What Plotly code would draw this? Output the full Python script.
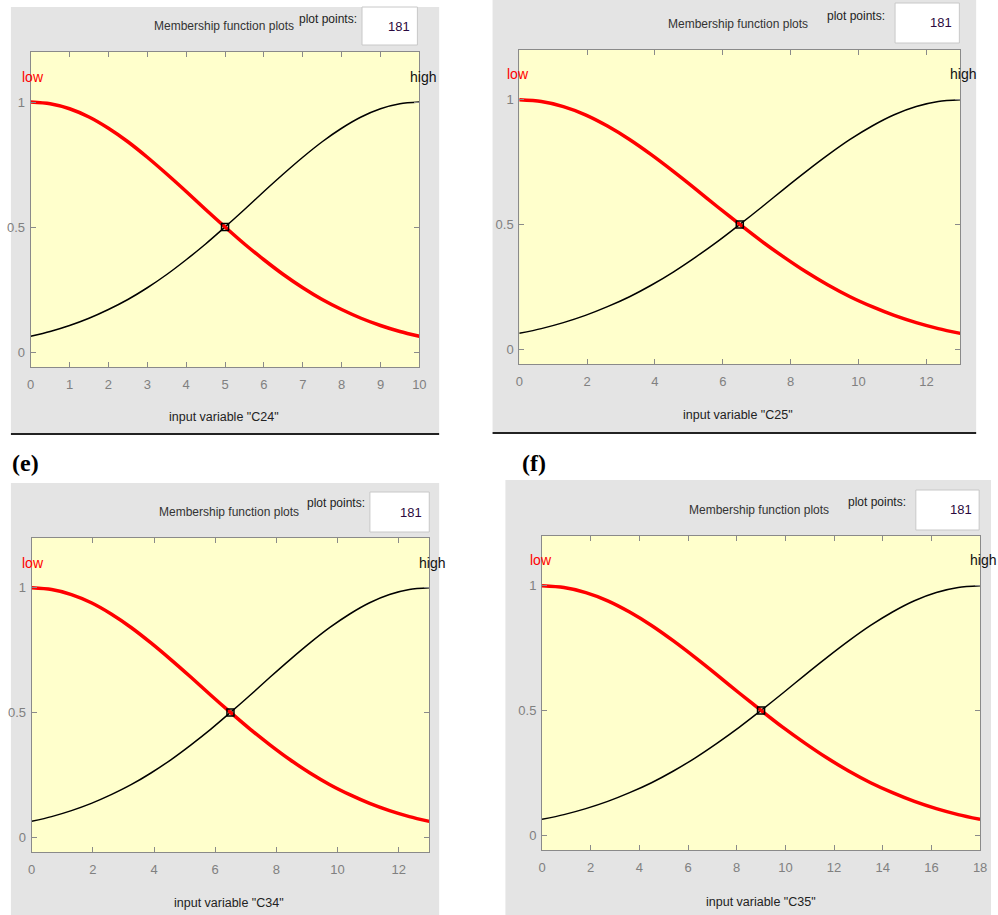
import plotly.graph_objects as go

W, H = 998, 915

# ---- data ----
panel_vars = ['C24', 'C25', 'C34', 'C35']
panel_xmax = [10, 13, 13, 18]
c24_x = [0, 0.5, 1, 1.5, 2, 2.5, 3, 3.5, 4, 4.5, 5, 5.5, 6, 6.5, 7, 7.5, 8, 8.5, 9, 9.5, 10]
c25_x = [0, 0.65, 1.3, 1.95, 2.6, 3.25, 3.9, 4.55, 5.2, 5.85, 6.5, 7.15, 7.8, 8.45, 9.1, 9.75,
         10.4, 11.05, 11.7, 12.35, 13]
c34_x = [0, 0.65, 1.3, 1.95, 2.6, 3.25, 3.9, 4.55, 5.2, 5.85, 6.5, 7.15, 7.8, 8.45, 9.1, 9.75,
         10.4, 11.05, 11.7, 12.35, 13]
c35_x = [0, 0.9, 1.8, 2.7, 3.6, 4.5, 5.4, 6.3, 7.2, 8.1, 9, 9.9, 10.8, 11.7, 12.6, 13.5,
         14.4, 15.3, 16.2, 17.1, 18]
low_values = [1.000, 0.993, 0.973, 0.940, 0.895, 0.841, 0.779, 0.712, 0.642, 0.570, 0.500,
              0.432, 0.369, 0.310, 0.257, 0.210, 0.170, 0.135, 0.106, 0.082, 0.063]
high_values = [0.063, 0.082, 0.106, 0.135, 0.170, 0.210, 0.257, 0.310, 0.369, 0.432, 0.500,
               0.570, 0.642, 0.712, 0.779, 0.841, 0.895, 0.940, 0.973, 0.993, 1.000]
cross_x = [5, 6.5, 6.5, 9]
cross_y = [0.5, 0.5, 0.5, 0.5]
c24_ticks = [0, 1, 2, 3, 4, 5, 6, 7, 8, 9, 10]
c25_ticks = [0, 2, 4, 6, 8, 10, 12]
c34_ticks = [0, 2, 4, 6, 8, 10, 12]
c35_ticks = [0, 2, 4, 6, 8, 10, 12, 14, 16, 18]
y_ticks = [0, 0.5, 1]
y_tick_labels = ['0', '0.5', '1']
plot_points = '181'
panel_tags = ['(e)', '(f)']

xs = [c24_x, c25_x, c34_x, c35_x]
ticks = [c24_ticks, c25_ticks, c34_ticks, c35_ticks]

# ---- layout geometry (pixels) ----
areas = [(27, 420, 52, 367), (521, 967, 50, 364), (28, 430, 538, 852), (544, 987, 536, 850)]
panels = [(7, 440, 7, 433), (494, 983, 0, 432), (7, 440, 483, 915), (507, 998, 480, 915)]
headers = [
    (222, 26, 328, 19, (362, 418, 7, 45)),
    (742, 24, 862, 16, (901, 966, 3, 43)),
    (228, 512, 336, 503, (370, 430, 492, 532)),
    (763, 510, 883, 502, (922, 986, 490, 530)),
]
low_pos = [(16, 77), (507, 74), (16, 563), (530, 560)]
high_pos = [(409, 77), (955, 74), (418, 563), (975, 560)]
xlabel_pos = [(222, 417), (742, 415), (228, 903), (765, 902)]

FONT = 'Liberation Sans, Arial, sans-serif'
GRAY_BG = '#E4E4E4'
YELLOW = '#FFFFCC'
AXC = '#8A8A8A'


def px(x):
    return x / W


def py(y):
    return 1 - y / H


fig = go.Figure()
shapes = []
annotations = []

for i in range(4):
    sfx = '' if i == 0 else str(i + 1)
    xa, ya = 'x' + sfx, 'y' + sfx
    l, r, t, b = areas[i]
    xmax = panel_xmax[i]

    fig.add_trace(go.Scatter(x=xs[i], y=high_values, mode='lines', xaxis=xa, yaxis=ya,
                             line=dict(color='black', width=1.5, shape='spline', smoothing=0.8),
                             showlegend=False, hoverinfo='skip'))
    fig.add_trace(go.Scatter(x=xs[i], y=low_values, mode='lines', xaxis=xa, yaxis=ya,
                             line=dict(color='#FF0000', width=3.5, shape='spline', smoothing=0.8),
                             showlegend=False, hoverinfo='skip'))
    fig.add_trace(go.Scatter(x=[cross_x[i]], y=[cross_y[i]], mode='markers', xaxis=xa, yaxis=ya,
                             marker=dict(symbol='square-open', size=7, color='black',
                                         line=dict(width=1.5, color='black')),
                             showlegend=False, hoverinfo='skip'))

    axis_common = dict(showline=True, mirror='ticks', linecolor=AXC, linewidth=1,
                       ticks='inside', ticklen=5, tickcolor=AXC, showgrid=False,
                       zeroline=False, tickfont=dict(family=FONT, size=13, color='#808080'),
                       fixedrange=True)
    fig.update_layout(**{
        ('xaxis' + sfx): dict(domain=[px(l), px(r)], range=[0, xmax], anchor=ya,
                              tickvals=ticks[i], ticktext=[str(v) for v in ticks[i]],
                              ticklabelstandoff=5, **axis_common),
        ('yaxis' + sfx): dict(domain=[py(b), py(t)], range=[-0.06, 1.2], anchor=xa,
                              tickvals=y_ticks, ticktext=y_tick_labels,
                              ticklabelstandoff=2, **axis_common),
    })

    pl, pr, pt, pb = panels[i]
    shapes.append(dict(type='rect', xref='paper', yref='paper', x0=px(pl), x1=px(pr),
                       y0=py(pb), y1=py(pt), fillcolor=GRAY_BG, line=dict(width=0),
                       layer='below'))
    shapes.append(dict(type='rect', xref=xa + ' domain', yref=ya + ' domain', x0=0, x1=1,
                       y0=0, y1=1, fillcolor=YELLOW, line=dict(width=0), layer='below'))

    tcx, tcy, ppx, ppy, (bl, br, bt, bb) = headers[i]
    shapes.append(dict(type='rect', xref='paper', yref='paper', x0=px(bl), x1=px(br),
                       y0=py(bb), y1=py(bt), fillcolor='white',
                       line=dict(width=1, color='#C8C8C8'), layer='below'))
    annotations.append(dict(x=px(tcx), y=py(tcy), xref='paper', yref='paper',
                            text='Membership function plots', showarrow=False,
                            xanchor='center', yanchor='middle',
                            font=dict(family=FONT, size=12, color='#333333')))
    annotations.append(dict(x=px(ppx), y=py(ppy), xref='paper', yref='paper',
                            text='plot points:', showarrow=False,
                            xanchor='center', yanchor='middle',
                            font=dict(family=FONT, size=12, color='#222222')))
    annotations.append(dict(x=px(br - 5), y=py((bt + bb) / 2), xref='paper', yref='paper',
                            text=plot_points, showarrow=False,
                            xanchor='right', yanchor='middle',
                            font=dict(family=FONT, size=13, color='#2A0A40')))
    annotations.append(dict(x=px(low_pos[i][0]), y=py(low_pos[i][1]), xref='paper',
                            yref='paper', text='low', showarrow=False,
                            xanchor='left', yanchor='middle',
                            font=dict(family=FONT, size=14, color='#FF0000')))
    annotations.append(dict(x=px(high_pos[i][0]), y=py(high_pos[i][1]), xref='paper',
                            yref='paper', text='high', showarrow=False,
                            xanchor='left', yanchor='middle',
                            font=dict(family=FONT, size=14, color='#111111')))
    annotations.append(dict(x=px(xlabel_pos[i][0]), y=py(xlabel_pos[i][1]), xref='paper',
                            yref='paper', text='input variable "%s"' % panel_vars[i],
                            showarrow=False, xanchor='center', yanchor='middle',
                            font=dict(family=FONT, size=12.5, color='#222222')))

shapes.append(dict(type='line', xref='paper', yref='paper', x0=px(7), x1=px(440),
                   y0=py(434), y1=py(434), line=dict(color='#222222', width=2)))
shapes.append(dict(type='line', xref='paper', yref='paper', x0=px(494), x1=px(983),
                   y0=py(433), y1=py(433), line=dict(color='#222222', width=2)))

annotations.append(dict(x=px(6), y=py(463), xref='paper', yref='paper', text='<b>%s</b>' % panel_tags[0],
                        showarrow=False, xanchor='left', yanchor='middle',
                        font=dict(family='Liberation Serif, Times New Roman, serif', size=24,
                                  color='black')))
annotations.append(dict(x=px(522), y=py(463), xref='paper', yref='paper', text='<b>%s</b>' % panel_tags[1],
                        showarrow=False, xanchor='left', yanchor='middle',
                        font=dict(family='Liberation Serif, Times New Roman, serif', size=24,
                                  color='black')))

fig.update_layout(width=W, height=H, margin=dict(l=0, r=0, t=0, b=0),
                  paper_bgcolor='white', plot_bgcolor='rgba(0,0,0,0)',
                  shapes=shapes, annotations=annotations, showlegend=False)

fig.write_html('out.html', config={'displayModeBar': False})
